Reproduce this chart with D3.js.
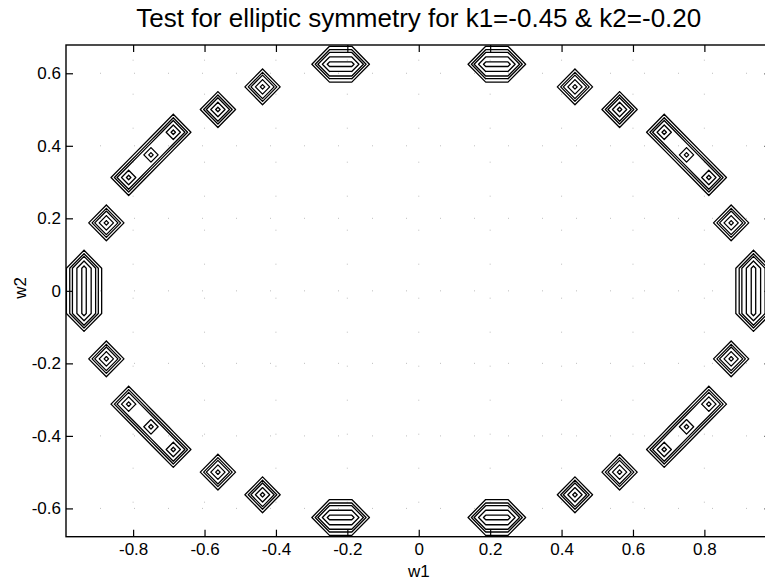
<!DOCTYPE html>
<html>
<head>
<meta charset="utf-8">
<script src="https://cdn.jsdelivr.net/npm/d3@7"></script>
<style>
  html, body { margin: 0; padding: 0; background: #fff; }
  svg { display: block; font-family: "Liberation Sans", Arial, Helvetica, sans-serif; }
</style>
</head>
<body>
<svg id="chart" width="765" height="580"></svg>
<script>
// Frequency grid spacing (w1, w2 sampled at multiples of this step)
const gridStep = 0.0625;

// Grid nodes carrying the spectral peaks, listed as (w1, w2) pairs
const peakW1 = [
  -0.25, -0.1875, 0.1875, 0.25,
  -0.25, -0.1875, 0.1875, 0.25,
  -0.9375, -0.9375, -0.9375,
  0.9375, 0.9375, 0.9375,
  -0.875, -0.875, 0.875, 0.875,
  -0.8125, -0.8125, 0.8125, 0.8125,
  -0.75, -0.75, 0.75, 0.75,
  -0.6875, -0.6875, 0.6875, 0.6875,
  -0.5625, -0.5625, 0.5625, 0.5625,
  -0.4375, -0.4375, 0.4375, 0.4375
];
const peakW2 = [
  0.625, 0.625, 0.625, 0.625,
  -0.625, -0.625, -0.625, -0.625,
  -0.0625, 0, 0.0625,
  -0.0625, 0, 0.0625,
  0.1875, -0.1875, 0.1875, -0.1875,
  0.3125, -0.3125, 0.3125, -0.3125,
  0.375, -0.375, 0.375, -0.375,
  0.4375, -0.4375, 0.4375, -0.4375,
  0.5, -0.5, 0.5, -0.5,
  0.5625, -0.5625, 0.5625, -0.5625
];
const peakHeight = [
  1, 1, 1, 1,
  1, 1, 1, 1,
  1, 1, 1,
  1, 1, 1,
  1, 1, 1, 1,
  1, 1, 1, 1,
  1, 1, 1, 1,
  1, 1, 1, 1,
  1, 1, 1, 1,
  1, 1, 1, 1
];

// Contour levels
const contourLevels = [0.21, 0.36, 0.48, 0.68, 0.9];

// Axes
const xDomain = [-0.988, 0.988];
const yDomain = [-0.678, 0.678];
const xTicks = [-0.8, -0.6, -0.4, -0.2, 0, 0.2, 0.4, 0.6, 0.8];
const yTicks = [-0.6, -0.4, -0.2, 0, 0.2, 0.4, 0.6];
const titleText = "Test for elliptic symmetry for k1=-0.45 & k2=-0.20";
const xLabel = "w1";
const yLabel = "w2";

// ---------------------------------------------------------------------------
const plot = { left: 66, right: 771.5, top: 45, bottom: 536.7 };

const x = d3.scaleLinear().domain(xDomain).range([plot.left, plot.right]);
const y = d3.scaleLinear().domain(yDomain).range([plot.bottom, plot.top]);

// Sampled surface on the grid
const iMin = Math.floor(xDomain[0] / gridStep) - 2;
const iMax = Math.ceil(xDomain[1] / gridStep) + 2;
const jMin = Math.floor(yDomain[0] / gridStep) - 2;
const jMax = Math.ceil(yDomain[1] / gridStep) + 2;
const nx = iMax - iMin + 1;
const ny = jMax - jMin + 1;
const values = new Float64Array(nx * ny);
peakW1.forEach((w1, k) => {
  const i = Math.round(w1 / gridStep) - iMin;
  const j = Math.round(peakW2[k] / gridStep) - jMin;
  values[j * nx + i] = peakHeight[k];
});

// Marching squares with linear interpolation; saddles resolved by the cell mean
function isoSegments(t) {
  const segs = [];
  for (let j = 0; j < ny - 1; j++) {
    for (let i = 0; i < nx - 1; i++) {
      const c = [[i, j], [i + 1, j], [i + 1, j + 1], [i, j + 1]];
      const v = c.map(p => values[p[1] * nx + p[0]]);
      const hi = v.map(a => a >= t);
      const n = hi.filter(Boolean).length;
      if (n === 0 || n === 4) continue;
      const cross = k => {
        const a = k, b = (k + 1) % 4;
        const f = (t - v[a]) / (v[b] - v[a]);
        return [c[a][0] + f * (c[b][0] - c[a][0]), c[a][1] + f * (c[b][1] - c[a][1])];
      };
      const edges = [0, 1, 2, 3].filter(k => hi[k] !== hi[(k + 1) % 4]);
      if (edges.length === 2) {
        segs.push([cross(edges[0]), cross(edges[1])]);
      } else {
        const mean = (v[0] + v[1] + v[2] + v[3]) / 4;
        const isolate = mean >= t ? hi.map(h => !h) : hi;
        for (let k = 0; k < 4; k++) {
          if (isolate[k]) segs.push([cross((k + 3) % 4), cross(k)]);
        }
      }
    }
  }
  return segs;
}

const gx = g => (g + iMin) * gridStep;
const gy = g => (g + jMin) * gridStep;

const svg = d3.select("#chart");

svg.append("defs").append("clipPath").attr("id", "plot-clip")
  .append("rect")
  .attr("x", plot.left).attr("y", plot.top)
  .attr("width", plot.right - plot.left).attr("height", plot.bottom - plot.top);

// Dotted grid (very sparse dots)
const grid = svg.append("g")
  .attr("stroke", "#9a9a9a").attr("stroke-width", 0.9)
  .attr("stroke-dasharray", "1 33").attr("opacity", 0.7);
grid.selectAll("line.gx").data(xTicks).join("line")
  .attr("x1", d => x(d)).attr("x2", d => x(d))
  .attr("y1", plot.bottom).attr("y2", plot.top);
grid.selectAll("line.gy").data(yTicks).join("line")
  .attr("y1", d => y(d)).attr("y2", d => y(d))
  .attr("x1", plot.left).attr("x2", plot.right);

// Contour lines
const contourGroup = svg.append("g")
  .attr("clip-path", "url(#plot-clip)")
  .attr("fill", "none").attr("stroke", "#000")
  .attr("stroke-width", 1.3).attr("stroke-linecap", "round").attr("stroke-linejoin", "round");

contourLevels.forEach(t => {
  const p = d3.path();
  isoSegments(t).forEach(([a, b]) => {
    p.moveTo(x(gx(a[0])), y(gy(a[1])));
    p.lineTo(x(gx(b[0])), y(gy(b[1])));
  });
  contourGroup.append("path").attr("d", p.toString());
});

// Axes with inward ticks
const fmt = d => d === 0 ? "0" : d3.format(".1f")(d).replace("\u2212", "-");
const styleAxis = g => {
  g.select(".domain").remove();
  g.selectAll(".tick line").attr("stroke", "#000").attr("stroke-width", 1.2);
  g.selectAll(".tick text").attr("fill", "#000");
  g.attr("font-size", 17).attr("font-family", "Liberation Sans, Arial, sans-serif");
};

svg.append("g").attr("transform", `translate(0,${plot.bottom})`)
  .call(d3.axisBottom(x).tickValues(xTicks).tickSizeInner(-7).tickSizeOuter(0).tickPadding(6).tickFormat(fmt))
  .call(styleAxis);
svg.append("g").attr("transform", `translate(0,${plot.top})`)
  .call(d3.axisTop(x).tickValues(xTicks).tickSizeInner(-7).tickSizeOuter(0).tickFormat(""))
  .call(styleAxis);
svg.append("g").attr("transform", `translate(${plot.left},0)`)
  .call(d3.axisLeft(y).tickValues(yTicks).tickSizeInner(-7).tickSizeOuter(0).tickPadding(5).tickFormat(fmt))
  .call(styleAxis);
svg.append("g").attr("transform", `translate(${plot.right},0)`)
  .call(d3.axisRight(y).tickValues(yTicks).tickSizeInner(-7).tickSizeOuter(0).tickFormat(""))
  .call(styleAxis);

// Box
svg.append("rect")
  .attr("x", plot.left).attr("y", plot.top)
  .attr("width", plot.right - plot.left).attr("height", plot.bottom - plot.top)
  .attr("fill", "none").attr("stroke", "#000").attr("stroke-width", 1.4);

// Title and axis labels
svg.append("text")
  .attr("x", (plot.left + plot.right) / 2).attr("y", 27)
  .attr("text-anchor", "middle").attr("font-size", 26).attr("fill", "#000")
  .text(titleText);
svg.append("text")
  .attr("x", (plot.left + plot.right) / 2).attr("y", 577)
  .attr("text-anchor", "middle").attr("font-size", 17).attr("fill", "#000")
  .text(xLabel);
svg.append("text")
  .attr("transform", `translate(26,${(plot.top + plot.bottom) / 2 - 3}) rotate(-90)`)
  .attr("text-anchor", "middle").attr("font-size", 17).attr("fill", "#000")
  .text(yLabel);
</script>
</body>
</html>
